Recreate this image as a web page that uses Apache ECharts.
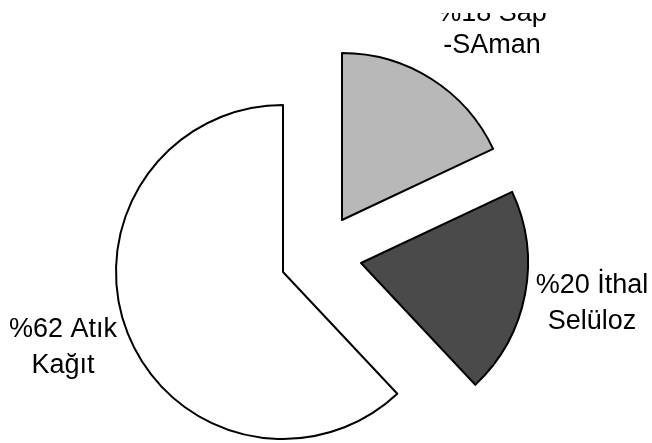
<!DOCTYPE html>
<html>
<head>
<meta charset="utf-8">
<script src="https://cdn.jsdelivr.net/npm/echarts@6/dist/echarts.min.js"></script>
<style>
  html, body { margin: 0; padding: 0; background: #fff; }
  #chart { width: 652px; height: 443px; }
</style>
</head>
<body>
<div id="chart"></div>
<script>
// data
const names = ['%18 Sap\n-SAman', '%20 İthal\nSelüloz', '%62 Atık\nKağıt'];
const values = [18, 20, 62];
const colors = ['#b8b8b8', '#4a4a4a', '#ffffff'];
// each exploded slice gets its own pie centre (px)
const sliceCenters = [[342, 220], [361, 263], [283, 272]];
// label centres (px) and line heights
const labelPos = [[492, 30], [592, 304], [63, 348]];
const labelLineHeights = [32, 36, 36];

const chart = echarts.init(document.getElementById('chart'));

// one pie per slice, the other slices hidden, so every slice can be pulled out on its own
const series = values.map((_, s) => ({
  type: 'pie',
  center: sliceCenters[s],
  radius: 167,
  startAngle: 90,
  clockwise: true,
  silent: true,
  avoidLabelOverlap: false,
  emphasis: { disabled: true },
  labelLine: { show: false },
  labelLayout: function (params) {
    const p = labelPos[params.dataIndex];
    return { x: p[0], y: p[1], align: 'center', verticalAlign: 'middle' };
  },
  data: values.map((v, i) => ({
    name: names[i],
    value: v,
    itemStyle: i === s
      ? { color: colors[i], borderColor: '#000', borderWidth: 2 }
      : { color: 'rgba(0,0,0,0)', borderWidth: 0 },
    label: i === s
      ? {
          show: true,
          position: 'outside',
          formatter: '{b}',
          fontFamily: 'Liberation Sans',
          fontSize: 27,
          lineHeight: labelLineHeights[i],
          color: '#000',
          align: 'center'
        }
      : { show: false }
  }))
}));

chart.setOption({
  animation: false,
  backgroundColor: '#fff',
  // the top strip of the scanned figure is blank (cuts the first label line)
  graphic: [
    {
      type: 'rect',
      z: 100,
      shape: { x: 0, y: 0, width: 652, height: 13 },
      style: { fill: '#fff' }
    }
  ],
  series: series
});
</script>
</body>
</html>
